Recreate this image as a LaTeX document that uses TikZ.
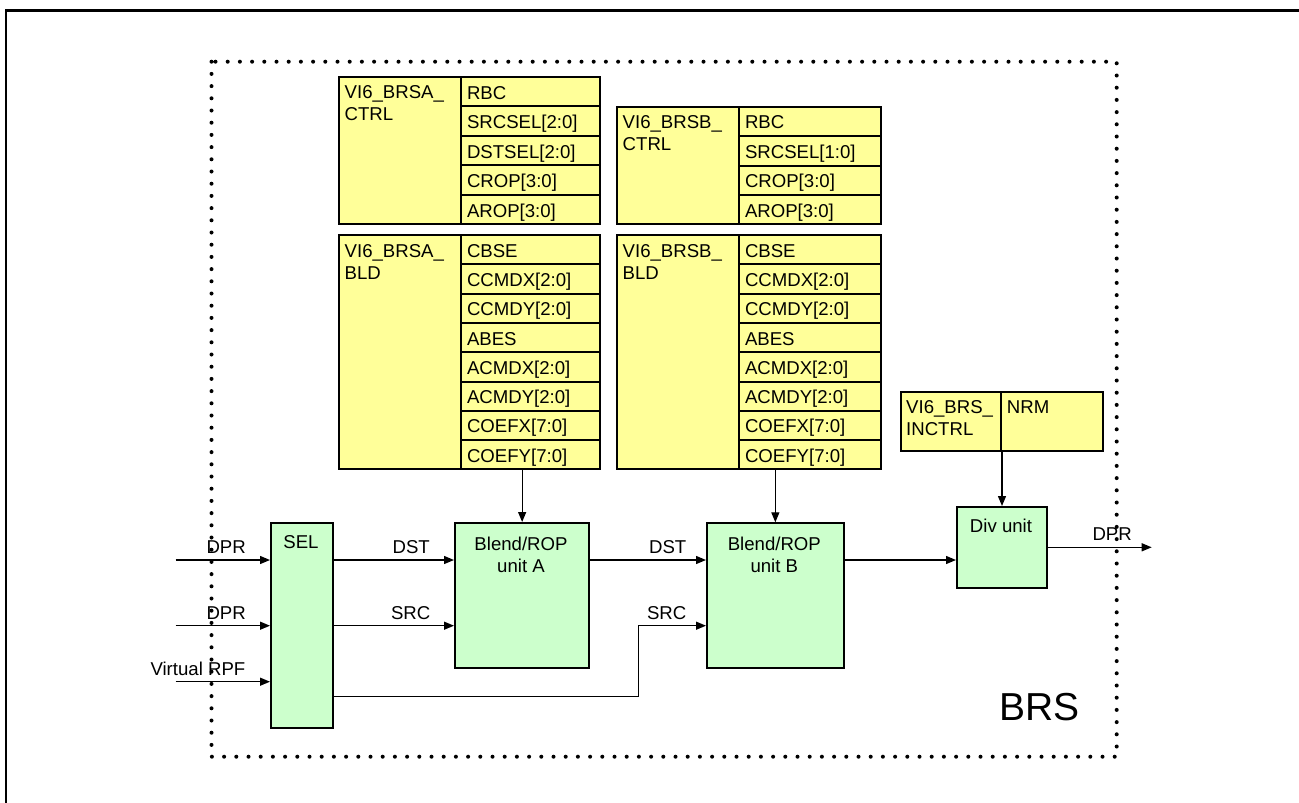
\documentclass[tikz,border=0pt]{standalone}
\usepackage{fontspec}
\setmainfont{Liberation Sans}
\usetikzlibrary{arrows.meta}
\definecolor{regyellow}{RGB}{255,255,153}
\definecolor{unitgreen}{RGB}{204,255,204}
\tikzset{
  txt/.style={font=\fontsize{18.6}{22}\selectfont, inner sep=0pt},
  regname/.style={draw, line width=2pt, fill=regyellow, anchor=north west, inner sep=0pt},
  regcell/.style={draw, line width=2pt, fill=regyellow, anchor=north west, inner xsep=6pt, inner ysep=0pt,
    font=\fontsize{18.6}{22}\selectfont, align=left, text height=15pt, text depth=0pt},
  cella/.style={regcell, text width=127.3pt, minimum height=29.45pt},
  cellb/.style={regcell, text width=129.5pt, minimum height=29.4pt},
  unit/.style={draw, line width=2pt, fill=unitgreen, anchor=north west, inner sep=0pt},
  conn/.style={line width=1.3pt},
}
\begin{document}
\begin{tikzpicture}[x=1pt, y=-1pt, >={Triangle[length=10pt,width=8pt]}]
    \useasboundingbox (0,0) rectangle (1299,803);
    \clip (0,0) rectangle (1299,803);
    % 外框
    \draw[line width=2.5pt] (5.8,10.7) rectangle (1330,830);
    \draw[line width=4pt, line cap=round, dash pattern=on 0pt off 12.2pt] (211.5,61.7) rectangle (1116.7,756.7);
    \node[anchor=base west, inner sep=0pt, font=\fontsize{39}{44}\selectfont] (brs) at (999,720) {BRS};

    % VI6_BRSA_CTRL
    \node[regname, minimum width=121.7pt, minimum height=147.25pt] (actrl) at (338.3,76) {};
    \node[txt, anchor=north west, align=left] (actrltxt) at (344.5,85.7) {VI6\_BRSA\_\\CTRL};
    \node[cella] (ac1) at (460,76) {RBC};
    \node[cella] (ac2) at (460,105.45) {SRCSEL[2:0]};
    \node[cella] (ac3) at (460,134.9) {DSTSEL[2:0]};
    \node[cella] (ac4) at (460,164.35) {CROP[3:0]};
    \node[cella] (ac5) at (460,193.8) {AROP[3:0]};

    % VI6_BRSA_BLD
    \node[regname, minimum width=121.7pt, minimum height=234.4pt] (abld) at (338.3,234) {};
    \node[txt, anchor=north west, align=left] (abldtxt) at (344.5,244) {VI6\_BRSA\_\\BLD};
    \node[cella, minimum height=29.3pt] (ab1) at (460,234) {CBSE};
    \node[cella, minimum height=29.3pt] (ab2) at (460,263.3) {CCMDX[2:0]};
    \node[cella, minimum height=29.3pt] (ab3) at (460,292.6) {CCMDY[2:0]};
    \node[cella, minimum height=29.3pt] (ab4) at (460,321.9) {ABES};
    \node[cella, minimum height=29.3pt] (ab5) at (460,351.2) {ACMDX[2:0]};
    \node[cella, minimum height=29.3pt] (ab6) at (460,380.5) {ACMDY[2:0]};
    \node[cella, minimum height=29.3pt] (ab7) at (460,409.8) {COEFX[7:0]};
    \node[cella, minimum height=29.3pt] (ab8) at (460,439.1) {COEFY[7:0]};

    % VI6_BRSB_CTRL
    \node[regname, minimum width=122pt, minimum height=117.6pt] (bctrl) at (616,105.7) {};
    \node[txt, anchor=north west, align=left] (bctrltxt) at (622.5,115.7) {VI6\_BRSB\_\\CTRL};
    \node[cellb] (bc1) at (738,105.7) {RBC};
    \node[cellb] (bc2) at (738,135.1) {SRCSEL[1:0]};
    \node[cellb] (bc3) at (738,164.5) {CROP[3:0]};
    \node[cellb] (bc4) at (738,193.9) {AROP[3:0]};

    % VI6_BRSB_BLD
    \node[regname, minimum width=122pt, minimum height=234.4pt] (bbld) at (616,234) {};
    \node[txt, anchor=north west, align=left] (bbldtxt) at (622.5,244) {VI6\_BRSB\_\\BLD};
    \node[cellb, minimum height=29.3pt] (bb1) at (738,234) {CBSE};
    \node[cellb, minimum height=29.3pt] (bb2) at (738,263.3) {CCMDX[2:0]};
    \node[cellb, minimum height=29.3pt] (bb3) at (738,292.6) {CCMDY[2:0]};
    \node[cellb, minimum height=29.3pt] (bb4) at (738,321.9) {ABES};
    \node[cellb, minimum height=29.3pt] (bb5) at (738,351.2) {ACMDX[2:0]};
    \node[cellb, minimum height=29.3pt] (bb6) at (738,380.5) {ACMDY[2:0]};
    \node[cellb, minimum height=29.3pt] (bb7) at (738,409.8) {COEFX[7:0]};
    \node[cellb, minimum height=29.3pt] (bb8) at (738,439.1) {COEFY[7:0]};

    % VI6_BRS_INCTRL
    \node[regname, minimum width=100pt, minimum height=59.3pt] (incname) at (900,390.7) {};
    \node[txt, anchor=north west, align=left] (incnametxt) at (906,400.7) {VI6\_BRS\_\\INCTRL};
    \node[regname, minimum width=102.3pt, minimum height=59.3pt] (incnrm) at (1000,390.7) {};
    \node[txt, anchor=north west] (incnrmtxt) at (1006.7,400.7) {NRM};

    % 处理单元
    \node[unit, minimum width=62.3pt, minimum height=204.4pt] (sel) at (270,522.3) {};
    \node[txt, anchor=base] (seltxt) at (301,548.3) {SEL};
    \node[unit, minimum width=134.3pt, minimum height=144.7pt] (blenda) at (454,522) {};
    \node[txt, anchor=north, align=center] (blendatxt) at (521,537.3) {Blend/ROP\\unit A};
    \node[unit, minimum width=136.7pt, minimum height=144.4pt] (blendb) at (706,522.3) {};
    \node[txt, anchor=north, align=center] (blendbtxt) at (774.3,537) {Blend/ROP\\unit B};
    \node[unit, minimum width=90pt, minimum height=81.3pt] (divu) at (956,506) {};
    \node[txt, anchor=base] (divutxt) at (1001,532.7) {Div unit};

    % 输入
    \coordinate (in1) at (175.7,560);
    \coordinate (in2) at (175.7,625.7);
    \coordinate (in3) at (175.7,681.7);
    \draw[conn,->] (in1) -- (in1 -| sel.west);
    \draw[conn,->] (in2) -- (in2 -| sel.west);
    \draw[conn,->] (in3) -- (in3 -| sel.west);
    \node[txt, anchor=base east] (indpra) at (246,553.3) {DPR};
    \node[txt, anchor=base east] (indprb) at (246,619) {DPR};
    \node[txt, anchor=base east] (inrpf) at (245.5,675.7) {Virtual RPF};

    % 连线
    \coordinate (dsty) at (0,560);
    \coordinate (srcy) at (0,625.7);
    \coordinate (bypy) at (0,696.7);
    \coordinate (bypx) at (638.5,0);
    \draw[conn,->] (sel.east |- dsty) -- (blenda.west |- dsty);
    \draw[conn,->] (sel.east |- srcy) -- (blenda.west |- srcy);
    \draw[conn,->] (sel.east |- bypy) -| (bypx |- srcy) -- (blendb.west |- srcy);
    \draw[conn,->] (blenda.east |- dsty) -- (blendb.west |- dsty);
    \draw[conn,->] (blendb.east |- dsty) -- (divu.west |- dsty);
    \node[txt, anchor=base east] (dsta) at (430,553.3) {DST};
    \node[txt, anchor=base east] (srca) at (430.5,619) {SRC};
    \node[txt, anchor=base east] (dstb) at (686.5,553.3) {DST};
    \node[txt, anchor=base east] (srcb) at (686.5,619) {SRC};

    % 寄存器到单元
    \draw[conn,->] (blenda.north |- abld.south) -- (blenda.north);
    \draw[conn,->] (blendb.north |- bbld.south) -- (blendb.north);
    \draw[conn,->] (incname.south east) -- (incname.south east |- divu.north);

    % 输出
    \coordinate (outdpr) at (1151.7,547.3);
    \draw[conn,->] (divu.east |- outdpr) -- (outdpr);
    \node[txt, anchor=base east] (outdprtxt) at (1132,540) {DPR};
\end{tikzpicture}
\end{document}
